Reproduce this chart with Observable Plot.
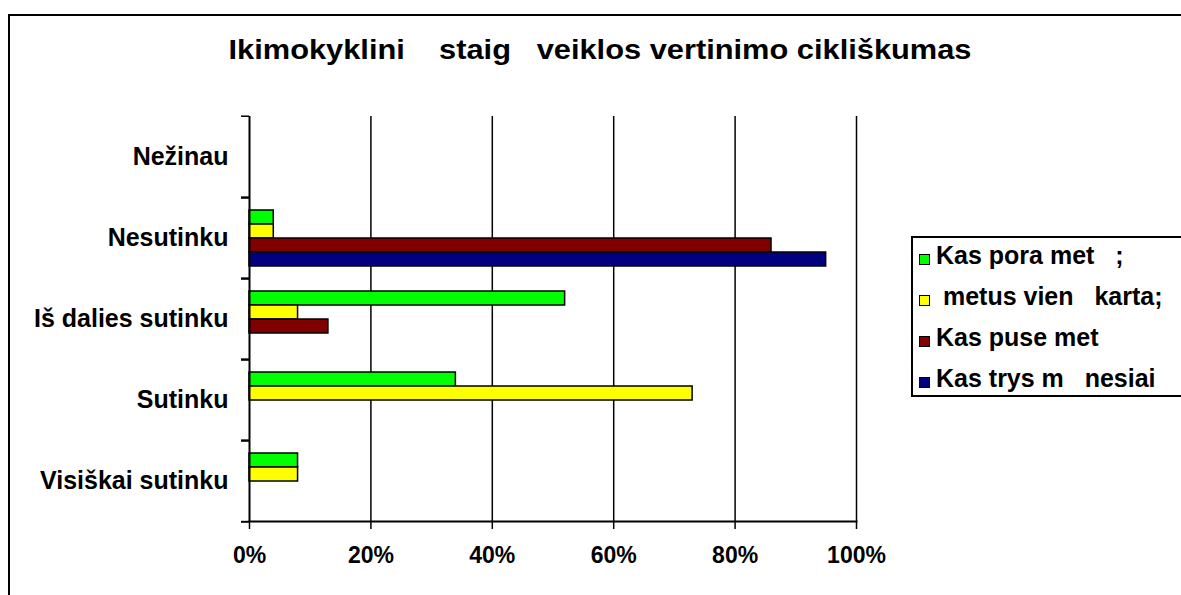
<!DOCTYPE html>
<html>
<head>
<meta charset="utf-8">
<script src="https://cdn.jsdelivr.net/npm/d3@7"></script>
<script src="https://cdn.jsdelivr.net/npm/@observablehq/plot@0.6"></script>
<style>
  html, body { margin: 0; padding: 0; background: #fff; overflow: hidden; }
  #page { position: relative; width: 1181px; height: 595px; overflow: hidden; font-family: "Liberation Sans", Arial, sans-serif; font-weight: bold; color: #000; }
  #border { position: absolute; left: 8px; top: 14px; width: 1300px; height: 800px; border: 2px solid #000; box-sizing: border-box; }
  #title { position: absolute; left: 0; top: 34px; width: 1200px; text-align: center; font-size: 28px; white-space: pre; transform: scaleX(1.1); transform-origin: 600px 0; }
  #chart { position: absolute; left: 0; top: 0; }
  #legend { position: absolute; left: 911px; top: 236px; width: 300px; height: 161px; border: 2px solid #000; box-sizing: border-box; padding: 0 0 0 6px; }
  .item { display: flex; align-items: center; height: 41px; font-size: 25px; white-space: pre; }
  .item:first-child { margin-top: -3px; }
  .sw { width: 9px; height: 9px; border: 1.5px solid #000; margin-right: 6px; margin-top: 8px; flex: none; }
</style>
</head>
<body>
<div id="page">
  <div id="border"></div>
  <div id="title"></div>
  <div id="chart"></div>
  <div id="legend"></div>
</div>
<script>
const titleText = "Ikimokyklini    staig   veiklos vertinimo cikliškumas";
const categories = ["Nežinau", "Nesutinku", "Iš dalies sutinku", "Sutinku", "Visiškai sutinku"];
const series = ["Kas pora met   ;", " metus vien   karta;", "Kas puse met", "Kas trys m   nesiai"];
const colors = ["#00FF00", "#FFFF00", "#800000", "#000080"];
const kasPoraMet = [0, 4, 52, 34, 8];
const metusVienKarta = [0, 4, 8, 73, 8];
const kasPuseMet = [0, 86, 13, 0, 0];
const kasTrysMenesiai = [0, 95, 0, 0, 0];
const xTicks = [0, 20, 40, 60, 80, 100];

const seriesValues = [kasPoraMet, metusVienKarta, kasPuseMet, kasTrysMenesiai];
const rows = [];
series.forEach((s, i) => categories.forEach((c, j) => rows.push({series: s, category: c, value: seriesValues[i][j]})));

document.getElementById("title").textContent = titleText;

const W = 900, H = 595, mT = 114, mB = 73, mL = 249, mR = 44;
const bandH = (H - mT - mB) / categories.length;

const chart = Plot.plot({
  width: W, height: H,
  marginLeft: mL, marginRight: mR, marginTop: mT, marginBottom: mB,
  style: {fontFamily: "'Liberation Sans', Arial, sans-serif", fontWeight: "bold", fontSize: "23px", color: "#000", background: "transparent", overflow: "visible"},
  x: {domain: [0, 100], label: null},
  fy: {domain: categories, padding: 0, label: null},
  y: {domain: series, paddingInner: 0, paddingOuter: 0.7, axis: null},
  color: {domain: series, range: colors},
  marks: [
    Plot.gridX(xTicks.slice(1), {stroke: "#000", strokeOpacity: 1, strokeWidth: 1.5}),
    Plot.barX(rows, {x: "value", y: "series", fy: "category", fill: "series", stroke: "#000", strokeWidth: 1.5, strokeOpacity: d => (d.value > 0 ? 1 : 0)}),
    Plot.ruleX([0], {stroke: "#000", strokeWidth: 2}),
    Plot.frame({anchor: "bottom", facetAnchor: "bottom", stroke: "#000", strokeWidth: 2}),
    Plot.axisX(xTicks, {tickFormat: d => d + "%", tickSize: 8, tickPadding: 17, strokeWidth: 1.5, fontSize: 23, fontWeight: "bold", label: null}),
    Plot.axisFy({anchor: "left", tickSize: 0, tickPadding: 21, fontSize: 25, fontWeight: "bold", label: null}),
    Plot.axisFy({anchor: "left", tickSize: 8, text: null, dy: -bandH / 2, strokeWidth: 1.5, label: null}),
    Plot.axisFy([categories[categories.length - 1]], {anchor: "left", tickSize: 8, text: null, dy: bandH / 2, strokeWidth: 2, label: null})
  ]
});
document.getElementById("chart").appendChild(chart);

const legend = document.getElementById("legend");
series.forEach((s, i) => {
  const item = document.createElement("div");
  item.className = "item";
  const sw = document.createElement("span");
  sw.className = "sw";
  sw.style.background = colors[i];
  const t = document.createElement("span");
  t.textContent = s;
  item.appendChild(sw);
  item.appendChild(t);
  legend.appendChild(item);
});
</script>
</body>
</html>
